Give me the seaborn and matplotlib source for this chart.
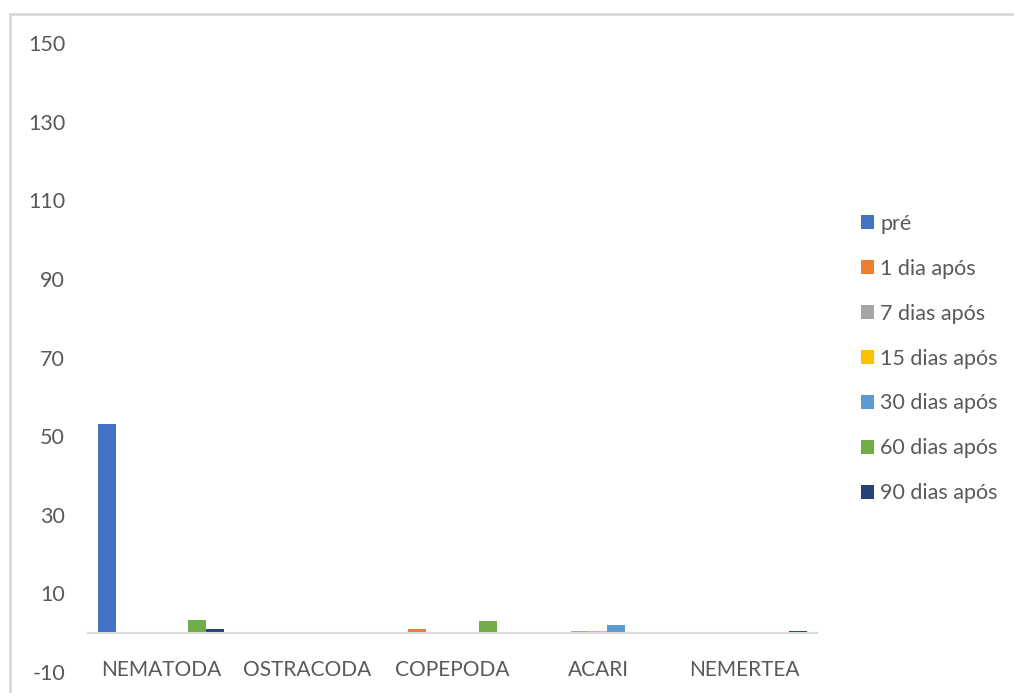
import matplotlib
matplotlib.use("Agg")
import matplotlib.pyplot as plt
from matplotlib.lines import Line2D
from matplotlib.patches import Patch
import pandas as pd
import seaborn as sns

# Mean abundance per taxon at each sampling time
taxa = ["NEMATODA", "OSTRACODA", "COPEPODA", "ACARI", "NEMERTEA"]
periods = ["pré", "1 dia após", "7 dias após", "15 dias após",
           "30 dias após", "60 dias após", "90 dias após"]
pre = [53.0, 0.0, 0.0, 0.0, 0.0]
dia1 = [0.0, 0.0, 1.0, 0.0, 0.0]
dias7 = [0.0, 0.0, 0.0, 0.33, 0.0]
dias15 = [0.0, 0.0, 0.0, 0.33, 0.0]
dias30 = [0.0, 0.0, 0.0, 2.0, 0.0]
dias60 = [3.3, 0.0, 3.0, 0.0, 0.0]
dias90 = [1.0, 0.0, 0.0, 0.0, 0.33]
yticks = [-10, 10, 30, 50, 70, 90, 110, 130, 150]

series = [pre, dia1, dias7, dias15, dias30, dias60, dias90]
df = pd.DataFrame(
    [(t, p, v) for p, vals in zip(periods, series) for t, v in zip(taxa, vals)],
    columns=["taxon", "periodo", "valor"],
)

colors = ["#4472C4", "#ED7D31", "#A5A5A5", "#FFC000",
          "#5B9BD5", "#70AD47", "#264478"]
text_color = "#595959"
line_color = "#D9D9D9"

sns.set_theme(style="white")
plt.rcParams["font.family"] = ["Lato", "DejaVu Sans"]
plt.rcParams["axes.unicode_minus"] = False

W, H = 1014, 693
fig = plt.figure(figsize=(W / 100, H / 100), dpi=100)
ax = fig.add_axes([88 / W, (H - 672) / H, (817 - 88) / W, (672 - 43) / H])

sns.barplot(data=df, x="taxon", y="valor", hue="periodo", order=taxa,
            hue_order=periods, palette=colors, width=0.86, gap=0,
            linewidth=0, saturation=1, ax=ax, legend=False, errorbar=None)

ax.set_xlim(-0.5, 4.5)
ax.set_ylim(-10, 150)
ax.set_yticks(yticks)
ax.set_xlabel("")
ax.set_ylabel("")

for s in ["top", "right", "left"]:
    ax.spines[s].set_visible(False)
ax.spines["bottom"].set_position(("data", 0))
ax.spines["bottom"].set_color(line_color)
ax.spines["bottom"].set_linewidth(1.5)

ax.tick_params(axis="y", length=0, pad=16.5, labelsize=15.5, labelcolor=text_color)
ax.tick_params(axis="x", which="major", length=0, pad=19.5, labelsize=15,
               labelcolor=text_color)
ax.set_xticks([i - 0.5 for i in range(len(taxa) + 1)], minor=True)
ax.tick_params(axis="x", which="minor", length=6, width=1.5, color=line_color,
               direction="out")

# legend on the right
handles = [Patch(facecolor=c, edgecolor="none") for c in colors]
fig.legend(handles, periods, loc="upper left", bbox_to_anchor=(852 / W, 1 - 205 / H),
           frameon=False, fontsize=15.5, labelcolor=text_color, handlelength=0.62,
           handleheight=0.62, handletextpad=0.3, labelspacing=1.16,
           borderaxespad=0)

# chart area border
fig.add_artist(Line2D([10 / W, 1.0], [1 - 14 / H, 1 - 14 / H], color=line_color,
                      lw=2, transform=fig.transFigure))
fig.add_artist(Line2D([10 / W, 10 / W], [0, 1 - 14 / H], color=line_color,
                      lw=2, transform=fig.transFigure))

fig.savefig("out.png", dpi=100, facecolor="white")
